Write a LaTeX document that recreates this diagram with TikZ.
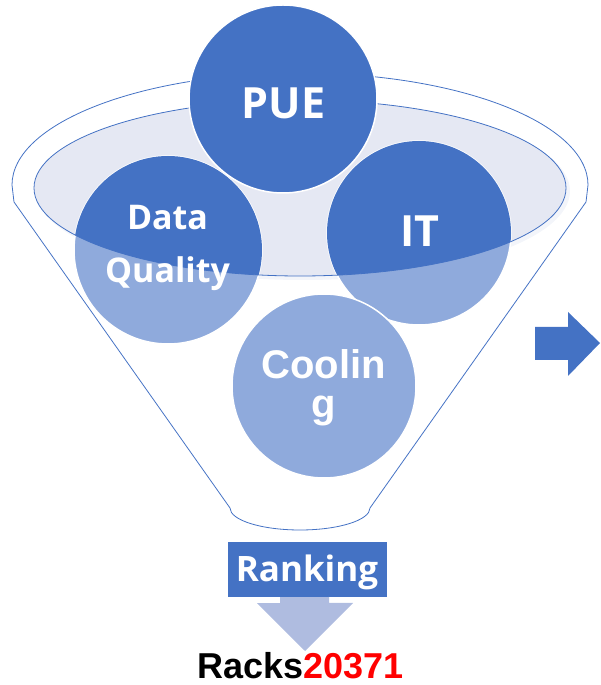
\documentclass[tikz,border=0pt]{standalone}
\usepackage{fontspec}
\usepackage{tikz}
\newfontfamily\segoe{Open Sans}
\newfontfamily\arial{Liberation Sans}
\definecolor{dark}{HTML}{4472C4}
\definecolor{light}{HTML}{8FAADC}
\definecolor{lav}{HTML}{E5E8F3}
\definecolor{pale}{HTML}{AFBCE0}
\definecolor{hot}{HTML}{FF0000}

\begin{document}
\begin{tikzpicture}[x=1pt,y=1pt,
  ball/.style = {circle, draw=white, line width=1.5pt, inner sep=0pt, minimum size=184pt},
  word/.style = {anchor=base, text=white, inner sep=0pt, font=\segoe\bfseries\fontsize{34}{34}\selectfont},
  big/.style = {word, font=\segoe\bfseries\fontsize{43}{43}\selectfont},
  cool/.style = {word, font=\arial\bfseries\fontsize{40}{40}\selectfont}]
\useasboundingbox (0,0) rectangle (601,685);
% funnel
\draw[dark, line width=0.8pt] (588,500) arc[start angle=0, end angle=180, x radius=288, y radius=112]
  -- (14,483) -- (230,177) arc[start angle=180, end angle=360, x radius=70, y radius=22]
  -- (586,483) -- cycle;
\fill[lav!45] (303,494) ellipse[x radius=267, y radius=89];
\fill[lav] (300,497) ellipse[x radius=266, y radius=88];
% balls
\node[ball, fill=light, minimum size=188pt] (2) at (168,435) {};
\node[ball, fill=light] (3) at (419,452) {};
\node[ball, fill=light] (4) at (324,299) {};
\begin{scope}
\clip (300,497) ellipse[x radius=266, y radius=88];
\fill[dark] (2.center) circle[radius=94];
\fill[dark] (3.center) circle[radius=92];
\end{scope}
\draw[dark, line width=0.8pt] (300,497) ellipse[x radius=266, y radius=88];
\node[ball, fill=dark, minimum size=188pt] (1) at (283,586) {};
% words
\node[big] (t1) at (283.5,566) {PUE};
\node[word] (t2) at (167.5,455) {Data};
\node[word] (t2b) at (167.5,402) {Quality};
\node[big] (t3) at (420,438) {IT};
\node[cool] (t4) at (323.5,306) {Coolin};
\node[cool] (t4b) at (323.5,267) {g};
% ranking
\node[fill=dark, minimum width=159pt, minimum height=55pt, inner sep=0pt] (5) at (307.5,115.5) {};
\node[word, font=\segoe\bfseries\fontsize{35}{35}\selectfont] (t5) at (307,103) {Ranking};
\node[anchor=base, inner sep=0pt, font=\arial\bfseries\fontsize{36}{36}\selectfont] (6) at (300.5,6) {Racks\textcolor{hot}{20371}};
\fill[pale] (5.south) ++(-27.5,0) -- ++(0,-6) -- ++(-23,0) -- (305,34) -- (353,82) -- ++(-24,0) -- ++(0,6) -- cycle;
% arrow
\fill[dark] (535,358) -- (568,358) -- (568,373) -- (600,342) -- (568,309) -- (568,325) -- (535,325) -- cycle;
\end{tikzpicture}
\end{document}
